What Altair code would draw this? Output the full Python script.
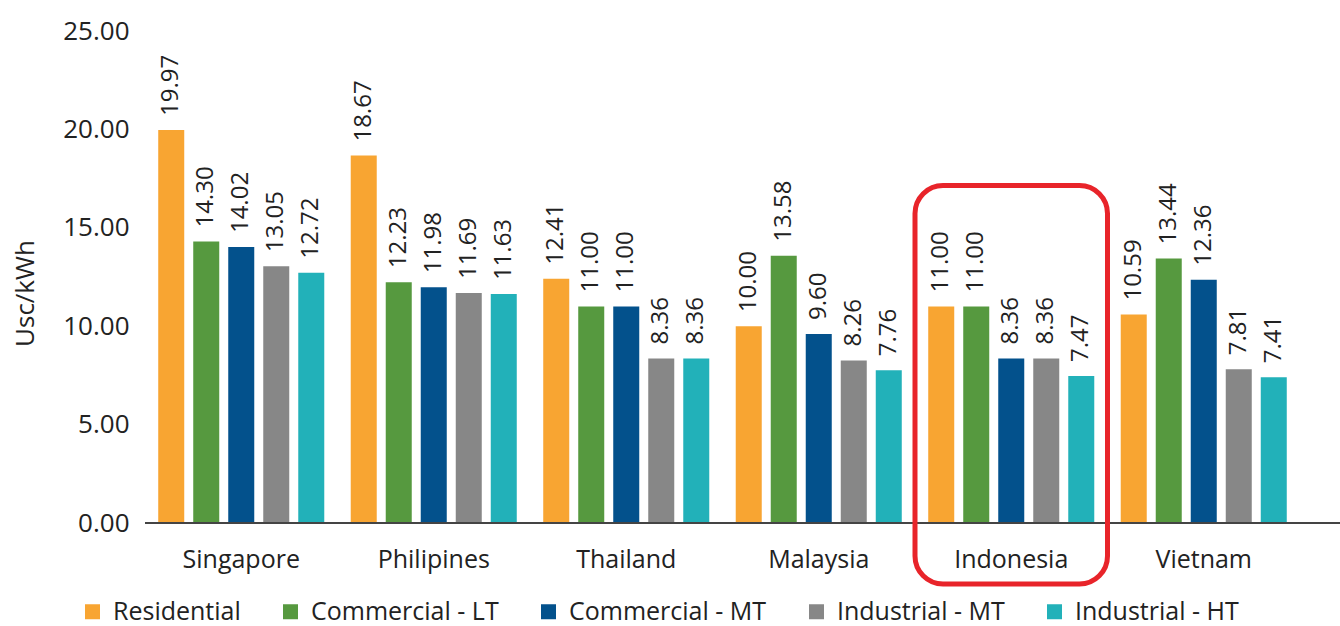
import altair as alt
import pandas as pd

# Electricity tariffs by country and customer class (US cents per kWh)
countries = ["Singapore", "Philipines", "Thailand", "Malaysia", "Indonesia", "Vietnam"]
series = ["Residential", "Commercial - LT", "Commercial - MT", "Industrial - MT", "Industrial - HT"]
colors = ["#f8a532", "#56993f", "#03518c", "#878787", "#22b1b9"]

residential = [19.97, 18.67, 12.41, 10.00, 11.00, 10.59]
commercial_lt = [14.30, 12.23, 11.00, 13.58, 11.00, 13.44]
commercial_mt = [14.02, 11.98, 11.00, 9.60, 8.36, 12.36]
industrial_mt = [13.05, 11.69, 8.36, 8.26, 8.36, 7.81]
industrial_ht = [12.72, 11.63, 8.36, 7.76, 7.47, 7.41]

highlight = ["Indonesia"]
y_ticks = [0, 5, 10, 15, 20, 25]

FONT = "Open Sans"
TEXT = "#222222"

rows = []
for name, vals in zip(series, [residential, commercial_lt, commercial_mt, industrial_mt, industrial_ht]):
    for c, v in zip(countries, vals):
        rows.append({"country": c, "series": name, "value": v})
df = pd.DataFrame(rows)

x_enc = alt.X(
    "country:N",
    sort=countries,
    scale=alt.Scale(paddingInner=0, paddingOuter=0),
    axis=alt.Axis(title=None, labelAngle=0, labelFontSize=25, labelPadding=24,
                  domain=False, ticks=False, labelColor=TEXT, labelFont=FONT),
)
xoff_enc = alt.XOffset("series:N", sort=series,
                       scale=alt.Scale(paddingInner=0.257, paddingOuter=0.378))
y_enc = alt.Y(
    "value:Q",
    scale=alt.Scale(domain=[0, 25], nice=False),
    axis=alt.Axis(values=y_ticks, format=".2f", grid=False, domain=False, ticks=False,
                  labelFontSize=26, labelPadding=16, labelColor=TEXT, labelFont=FONT,
                  title="Usc/kWh", titleFontSize=26, titleFontWeight="normal",
                  titleColor=TEXT, titleFont=FONT, titleX=-120, titleY=262,
                  titleAngle=270, titleAlign="center", titleBaseline="middle"),
)

bars = alt.Chart(df).mark_bar().encode(
    x=x_enc,
    xOffset=xoff_enc,
    y=y_enc,
    color=alt.Color(
        "series:N",
        sort=series,
        scale=alt.Scale(domain=series, range=colors),
        legend=alt.Legend(
            title=None, orient="none", legendX=-65, legendY=568,
            direction="horizontal", columns=5, symbolType="square",
            symbolSize=225, symbolStrokeWidth=0, labelFontSize=25,
            labelFont=FONT, labelColor=TEXT, labelOffset=8, labelLimit=400,
            columnPadding=37, padding=0,
        ),
    ),
)

labels = alt.Chart(df).mark_text(
    angle=270, align="left", baseline="middle", dx=14,
    fontSize=24, font=FONT, color=TEXT,
).encode(
    x=alt.X("country:N", sort=countries),
    xOffset=alt.XOffset("series:N", sort=series),
    y=alt.Y("value:Q"),
    text=alt.Text("value:Q", format=".2f"),
)

# Baseline running across the full chart width
baseline = alt.Chart(pd.DataFrame({"v": [0]})).mark_rule(
    color="#444444", strokeWidth=2
).encode(x=alt.value(0), x2=alt.value(1195), y=alt.Y("v:Q"))

# Rounded outline around the highlighted country
box = alt.Chart(pd.DataFrame({"country": highlight})).mark_rect(
    filled=False, stroke="#e8242a", strokeWidth=5, cornerRadius=28
).encode(
    x=alt.X("country:N", sort=countries),
    y=alt.datum(17.15),
    y2=alt.datum(-3.1),
)

chart = alt.layer(bars, labels, baseline, box).properties(
    width=1155,
    height=492,
    autosize=alt.AutoSizeParams(type="none"),
    padding={"left": 145, "top": 31, "right": 40, "bottom": 103},
).configure(font=FONT, view=alt.ViewConfig(strokeWidth=0, stroke="transparent"))

chart.save("out.html", embed_options={"renderer": "svg", "actions": False})
